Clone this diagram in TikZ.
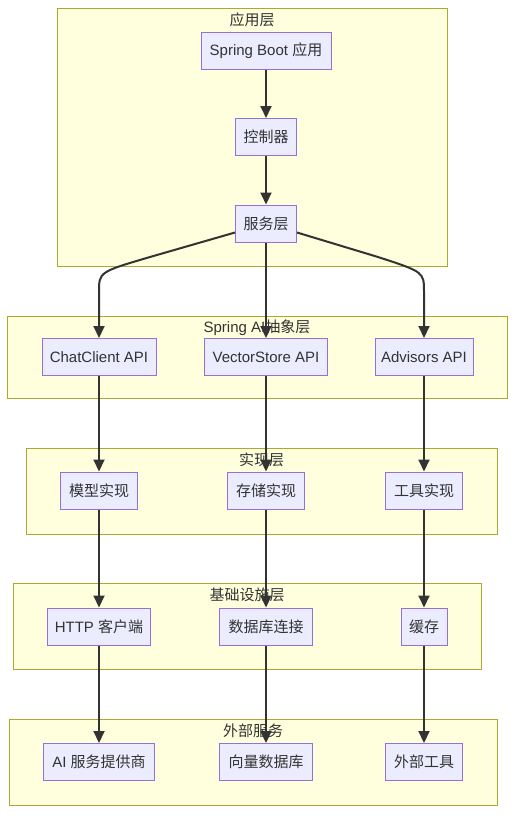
\documentclass[tikz,border=0pt]{standalone}
\usepackage{fontspec}
\setmainfont{Liberation Sans}
\newfontfamily\cjk{Noto Sans CJK SC}
\usetikzlibrary{arrows.meta}
\definecolor{nodefill}{HTML}{ECECFF}
\definecolor{nodeline}{HTML}{9370DB}
\definecolor{clfill}{HTML}{FFFFDE}
\definecolor{clline}{HTML}{AAAA33}
\definecolor{txt}{HTML}{333333}
\newcommand\zh[1]{{\cjk\fontsize{15}{17}\selectfont #1}}
\begin{document}
\begin{tikzpicture}[x=1pt,y=-1pt,
  box/.style={draw=nodeline, fill=nodefill, line width=1pt, minimum height=37pt,
    minimum width=#1, inner sep=0pt, text=txt, font=\fontsize{15}{17}\selectfont},
  cluster/.style={draw=clline, fill=clfill, line width=1pt},
  ctitle/.style={text=txt, inner sep=0pt, font=\fontsize{15}{17}\selectfont},
  edge/.style={draw=txt, line width=2pt, -{Triangle[length=12pt,width=11pt]}}]
\useasboundingbox (0,0) rectangle (530,825);
\fill[white] (0,0) rectangle (530,825);
% clusters
\draw[cluster] (57,8) rectangle (447,266);
\draw[cluster] (7,316) rectangle (507,398);
\draw[cluster] (26,448) rectangle (497,534);
\draw[cluster] (13,583) rectangle (481,669);
\draw[cluster] (9,719) rectangle (497,805);
\node[ctitle] (t1) at (252,19.5) {\zh{应用层}};
\node[ctitle] (t2) at (257,328) {Spring AI\zh{抽象层}};
\node[ctitle] (t3) at (261.5,460) {\zh{实现层}};
\node[ctitle] (t4) at (247,595) {\zh{基础设施层}};
\node[ctitle] (t5) at (253,731) {\zh{外部服务}};
% nodes
\node[box=130pt] (app) at (266,50.5) {Spring Boot \zh{应用}};
\node[box=61pt] (ctrl) at (266,137) {\zh{控制器}};
\node[box=61pt] (svc) at (266,223.5) {\zh{服务层}};
\node[box=114pt] (chat) at (99,357) {ChatClient API};
\node[box=123pt] (vec) at (266,357) {VectorStore API};
\node[box=98pt] (adv) at (424,357) {Advisors API};
\node[box=77pt] (model) at (99,490.5) {\zh{模型实现}};
\node[box=77pt] (store) at (266,490.5) {\zh{存储实现}};
\node[box=77pt] (tool) at (424,490.5) {\zh{工具实现}};
\node[box=103pt] (http) at (99,626.5) {HTTP \zh{客户端}};
\node[box=93pt] (db) at (266,626.5) {\zh{数据库连接}};
\node[box=46pt] (cache) at (424,626.5) {\zh{缓存}};
\node[box=111pt] (ai) at (99,762) {AI \zh{服务提供商}};
\node[box=93pt] (vdb) at (266,762) {\zh{向量数据库}};
\node[box=77pt] (ext) at (424,762) {\zh{外部工具}};
% edges
\draw[edge] (app.south) -- (ctrl.north);
\draw[edge] (ctrl.south) -- (svc.north);
\draw[edge] ([yshift=-9pt]svc.west) -- (150,257) .. controls (99,272) .. (99,292) -- (chat.north);
\draw[edge] (svc.south) -- (vec.north);
\draw[edge] ([yshift=-9pt]svc.east) -- (378,257) .. controls (424,272) .. (424,292) -- (adv.north);
\draw[edge] (chat.south) -- (model.north);
\draw[edge] (vec.south) -- (store.north);
\draw[edge] (adv.south) -- (tool.north);
\draw[edge] (model.south) -- (http.north);
\draw[edge] (store.south) -- (db.north);
\draw[edge] (tool.south) -- (cache.north);
\draw[edge] (http.south) -- (ai.north);
\draw[edge] (db.south) -- (vdb.north);
\draw[edge] (cache.south) -- (ext.north);
\end{tikzpicture}
\end{document}
